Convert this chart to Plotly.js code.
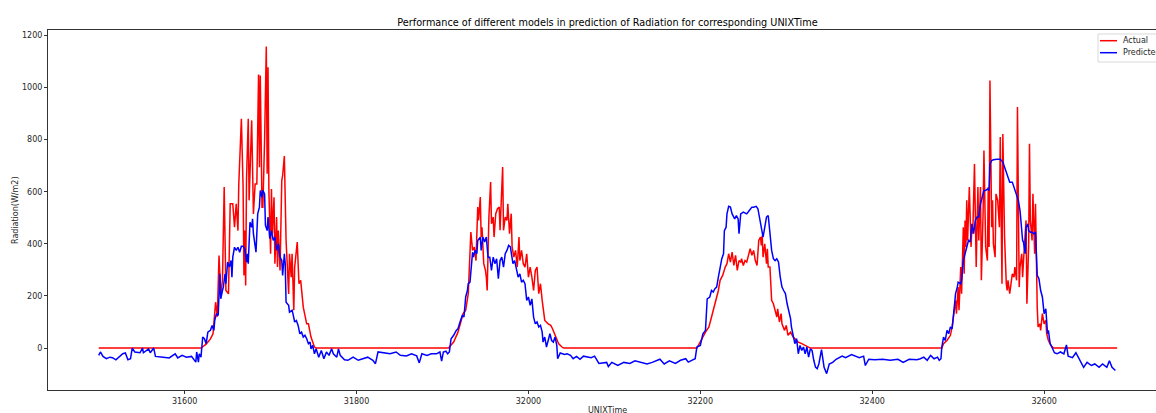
<!DOCTYPE html>
<html><head><meta charset="utf-8">
<script src="https://cdn.plot.ly/plotly-3.0.1.min.js"></script>
<style>html,body{margin:0;padding:0;overflow:hidden;background:#fff;width:1156px;height:413px}#chart{width:1200px;height:413px}</style>
</head><body><div id="chart"></div>
<script>
const actualTime = [31500,31619,31625,31630,31633,31636,31638,31640,31642,31644,31646,31648,31651,31653,31656,31658,31660,31662,31663,31665,31666,31668,31669,31670,31671,31672,31674,31675,31676,31678,31680,31682,31684,31686,31687,31688,31690,31691,31693,31695,31696,31697,31698,31700,31701,31702,31704,31705,31707,31708,31709,31711,31713,31714,31716,31718,31721,31722,31724,31725,31727,31728,31731,31733,31735,31738,31742,31744,31747,31751,31753,
31907,31913,31918,31924,31927,31930,31933,31935,31937,31939,31941,31942,31944,31945,31946,31948,31950,31951,31952,31954,31956,31957,31959,31960,31962,31964,31966,31967,31968,31970,31971,31973,31975,31976,31978,31980,31981,31983,31985,31987,31989,31990,31992,31994,31996,31998,32000,32002,32004,32006,32008,32010,32012,32014,32016,32017,32019,32023,32026,32028,32031,32035,32039,32041,
32196,32198,32202,32206,32210,32212,32215,32218,32221,32223,32226,32229,32231,32233,32235,32237,32239,32241,32243,32245,32247,32248,32250,32252,32254,32256,32258,32260,32262,32264,32266,32268,32270,32271,32272,32273,32275,32277,32278,32279,32281,32283,32285,32287,32289,32290,32292,32294,32295,32298,32300,32302,32305,32308,32310,32314,32318,32322,32326,32328,
32481,32483,32487,32491,32493,32495,32497,32498,32500,32501,32503,32504,32506,32507,32508,32509,32510,32511,32513,32514,32515,32516,32517,32519,32520,32521,32523,32524,32526,32527,32529,32530,32532,32534,32535,32536,32537,32539,32540,32541,32543,32544,32546,32548,32549,32550,32551,32552,32553,32554,32556,32557,32558,32560,32561,32563,32565,32566,32568,32569,32571,32572,32574,32575,32577,32579,32580,32582,32583,32584,32586,32587,32589,32590,32592,32593,32595,32596,32598,32600,32602,32603,32605,32608,32611,32685];
const actualRadiation = [0,0,15,35,55,176,120,355,208,260,618,221,208,554,554,464,554,451,630,854,880,618,279,451,240,650,880,567,656,874,515,630,630,1050,694,1046,541,541,797,1158,669,1078,605,362,611,439,579,324,503,311,451,298,643,662,737,413,208,362,272,362,145,311,407,247,260,157,93,93,42,4,0,
0,23,61,132,145,209,445,375,388,336,541,490,580,426,464,324,298,272,221,503,637,477,503,426,516,535,541,452,554,695,452,503,490,554,439,516,388,349,375,311,426,336,375,324,311,362,272,311,272,221,298,311,209,247,183,157,106,93,87,74,49,17,4,0,
0,14,36,61,81,106,145,183,221,260,279,311,324,362,330,368,317,356,298,336,330,343,317,336,330,356,381,356,375,336,317,413,426,394,432,349,400,324,381,311,311,183,170,145,119,151,100,132,93,68,87,49,61,42,36,23,17,10,4,0,
0,17,29,49,81,132,183,132,234,145,311,209,464,285,490,388,567,413,618,503,388,464,439,707,375,311,618,413,618,260,516,758,388,336,618,388,1027,464,567,400,349,592,567,464,810,336,247,822,643,426,247,221,260,209,234,285,272,311,260,925,234,311,362,272,388,490,170,388,784,490,413,592,362,554,157,81,93,68,132,93,106,55,29,10,0,0];
const predictedTime = [31500,31502,31505,31509,31513,31516,31520,31524,31528,31531,31534,31537,31539,31542,31548,31551,31552,31558,31560,31564,31566,31575,31582,31589,31592,31597,31602,31608,31613,31614,31616,31617,31619,31621,31623,31625,31627,31630,31632,31634,31635,31637,31639,31641,31642,31644,31645,31647,31648,31650,31652,31654,31655,31656,31658,31660,31662,31664,31666,31668,31670,31672,31673,31674,31676,31678,31679,31680,31682,31683,31685,31687,31688,31690,31691,31693,31694,31696,31697,31699,31701,31703,31705,31707,31709,31711,31713,31714,31716,31717,31718,31721,31722,31725,31726,31728,31730,31732,31734,31736,31738,31740,31742,31744,31746,31747,31749,31751,31753,31756,31759,31762,31765,31768,31771,31773,31777,31779,31781,31786,31790,31796,31802,31808,31813,31819,31822,31825,31831,31839,31846,31851,31858,31864,31870,31873,31876,31882,31887,31893,31897,31899,31901,31904,31906,31908,
31910,31913,31916,31918,31921,31923,31925,31927,31929,31930,31932,31933,31935,31936,31938,31940,31941,31944,31945,31947,31949,31951,31953,31955,31957,31959,31961,31963,31965,31967,31969,31971,31973,31975,31977,31979,31980,31982,31984,31986,31988,31990,31992,31994,31996,31998,32000,32002,32004,32006,32008,32010,32012,32014,32016,32017,32019,32021,32023,32025,32027,32029,32031,32033,32034,32037,32042,32045,32049,32052,32056,32060,32064,32073,32077,32082,32091,32093,32097,32104,32111,32118,32124,32131,32138,32144,32153,32158,32164,32171,32177,32183,32186,32190,32194,
32196,32200,32203,32206,32208,32211,32213,32215,32217,32219,32221,32223,32225,32227,32228,32230,32231,32233,32235,32237,32239,32240,32242,32244,32245,32247,32250,32254,32257,32260,32262,32265,32267,32269,32270,32272,32273,32275,32277,32279,32281,32283,32285,32287,32289,32291,32293,32295,32297,32299,32301,32303,32305,32306,32308,32310,32312,32314,32316,32318,32320,32322,32324,32326,32328,32330,32332,32334,32336,32338,32341,32344,32347,32350,32354,32358,32365,32369,32376,32381,32385,32390,32392,32396,32403,32412,32421,32430,32436,32443,32452,32456,32460,32464,32468,32472,32476,32478,32480,
32481,32483,32485,32487,32489,32491,32493,32495,32497,32499,32500,32503,32504,32506,32508,32510,32512,32514,32516,32518,32520,32522,32524,32526,32528,32530,32532,32534,32536,32537,32539,32541,32545,32549,32552,32555,32558,32560,32563,32565,32568,32570,32572,32573,32575,32576,32578,32579,32581,32582,32584,32586,32588,32590,32592,32594,32596,32598,32600,32602,32604,32605,32607,32609,32612,32615,32619,32623,32626,32628,32633,32637,32642,32646,32650,32655,32659,32664,32668,32673,32676,32679,32683];
const predictedRadiation = [-28,-15,-32,-41,-35,-37,-45,-32,-22,-19,-45,-41,0,-15,-18,0,-18,-3,-18,0,-32,-35,-38,-22,-38,-28,-35,-32,-54,-15,-54,-22,-35,42,36,17,61,68,87,68,106,132,125,285,189,221,234,285,247,330,311,336,272,349,387,375,387,368,391,391,381,330,362,324,483,464,496,439,400,368,515,541,605,579,605,592,471,451,503,420,451,413,426,375,400,349,336,279,362,324,176,164,138,145,132,100,106,87,55,61,42,49,36,17,23,-3,10,-22,-3,-35,-9,-41,-15,-28,-3,-22,-35,-3,-28,-45,-47,-35,-47,-41,-35,-47,-60,-15,-18,-22,-15,-28,-30,-22,-30,-57,-22,-28,-22,-22,-15,-50,-15,-12,-22,-15,
36,49,68,74,106,125,119,196,221,247,253,298,368,349,375,362,413,426,375,426,407,426,349,349,298,349,324,343,266,336,349,311,362,375,394,388,362,324,336,304,272,285,253,260,247,183,196,164,189,119,93,100,81,87,61,23,42,4,29,55,29,23,42,10,-41,-19,-25,-22,-28,-41,-32,-43,-31,-37,-31,-59,-55,-71,-55,-67,-55,-59,-49,-55,-61,-55,-43,-61,-49,-59,-47,-41,-54,-47,-41,
4,10,55,68,189,196,221,215,228,234,272,317,343,362,451,464,515,544,541,515,503,496,509,496,439,515,522,515,528,541,541,544,535,503,477,451,426,464,503,509,426,375,343,336,343,330,272,234,221,209,170,145,113,81,49,17,36,-22,10,-9,4,-22,4,-35,-3,-9,-47,-73,-79,-60,-6,-74,-98,-61,-55,-43,-31,-37,-25,-31,-37,-31,-67,-43,-45,-43,-47,-43,-55,-43,-45,-41,-35,-47,-28,-41,-35,-47,-41,
4,42,29,68,55,81,74,132,209,234,253,247,260,336,362,388,413,407,477,439,490,503,503,554,580,605,605,611,605,707,720,723,725,725,714,682,656,637,637,618,592,567,528,477,413,407,362,464,477,451,445,445,439,445,279,266,221,196,132,151,55,68,17,4,-18,-22,-15,-22,12,-31,-37,-18,-49,-74,-55,-67,-61,-74,-61,-74,-49,-74,-86];
const xTickValues = [31600, 31800, 32000, 32200, 32400, 32600];
const yTickValues = [0, 200, 400, 600, 800, 1000, 1200];
const seriesNames = ['Actual', 'Predicted'];
const seriesColors = ['#ff0000', '#0000ff'];

const traces = [
  {x: actualTime, y: actualRadiation, type: 'scatter', mode: 'lines', name: seriesNames[0],
   line: {color: seriesColors[0], width: 1.5}},
  {x: predictedTime, y: predictedRadiation, type: 'scatter', mode: 'lines', name: seriesNames[1],
   line: {color: seriesColors[1], width: 1.5}}
];

// the original figure is wider than the 1156px window; it is cropped on the right
const W = 1200, H = 413, ML = 48, MR = 33, MT = 30, MB = 23;
const PW = W - ML - MR, PH = H - MT - MB;
const px = v => (v - ML) / PW;
const py = v => (H - MB - v) / PH;
const legendRows = [40.7, 52.7];
const shapes = [
  {type: 'rect', xref: 'paper', yref: 'paper', x0: px(1098), x1: px(1185), y0: py(62), y1: py(34),
   line: {color: '#d9d9d9', width: 1}, fillcolor: 'rgba(255,255,255,0.8)', layer: 'above'}
];
const annotations = [];
seriesNames.forEach((n, i) => {
  shapes.push({type: 'line', xref: 'paper', yref: 'paper', x0: px(1100), x1: px(1117),
               y0: py(legendRows[i]), y1: py(legendRows[i]), line: {color: seriesColors[i], width: 1.5}, layer: 'above'});
  annotations.push({text: n, xref: 'paper', yref: 'paper', x: px(1121), y: py(legendRows[i]),
                    xanchor: 'left', yanchor: 'middle', showarrow: false, font: {size: 8, color: '#262626'}});
});
annotations.push({text: 'Radiation(W/m2)', xref: 'paper', yref: 'paper', x: px(15), y: 0.5,
                  xanchor: 'center', yanchor: 'middle', textangle: -90, showarrow: false,
                  font: {size: 8, color: '#262626'}});
annotations.push({text: 'UNIXTime', xref: 'paper', yref: 'paper', x: 0.5, y: py(410),
                  xanchor: 'center', yanchor: 'middle', showarrow: false,
                  font: {size: 8, color: '#262626'}});

const layout = {
  width: W, height: H,
  margin: {l: ML, r: MR, t: MT, b: MB},
  paper_bgcolor: '#ffffff', plot_bgcolor: '#ffffff',
  font: {family: 'DejaVu Sans', size: 8, color: '#262626'},
  showlegend: false,
  title: {text: 'Performance of different models in prediction of Radiation for corresponding UNIXTime',
          font: {size: 9.7, color: '#000000'}, x: 0.5, xref: 'paper', xanchor: 'center',
          y: 1, yref: 'paper', yanchor: 'bottom', pad: {b: 4}},
  xaxis: {range: [31441, 32743], tickvals: xTickValues, tickformat: 'd', showline: true, linecolor: '#333333', linewidth: 1,
          mirror: true, ticks: 'outside', ticklen: 3, tickcolor: '#333333', showgrid: false, zeroline: false},
  yaxis: {range: [-161, 1221], tickvals: yTickValues, tickformat: 'd', showline: true, linecolor: '#333333', linewidth: 1,
          mirror: true, ticks: 'outside', ticklen: 3, tickcolor: '#333333', showgrid: false, zeroline: false},
  shapes: shapes,
  annotations: annotations
};
Plotly.newPlot('chart', traces, layout, {displayModeBar: false, responsive: false});
</script></body></html>
